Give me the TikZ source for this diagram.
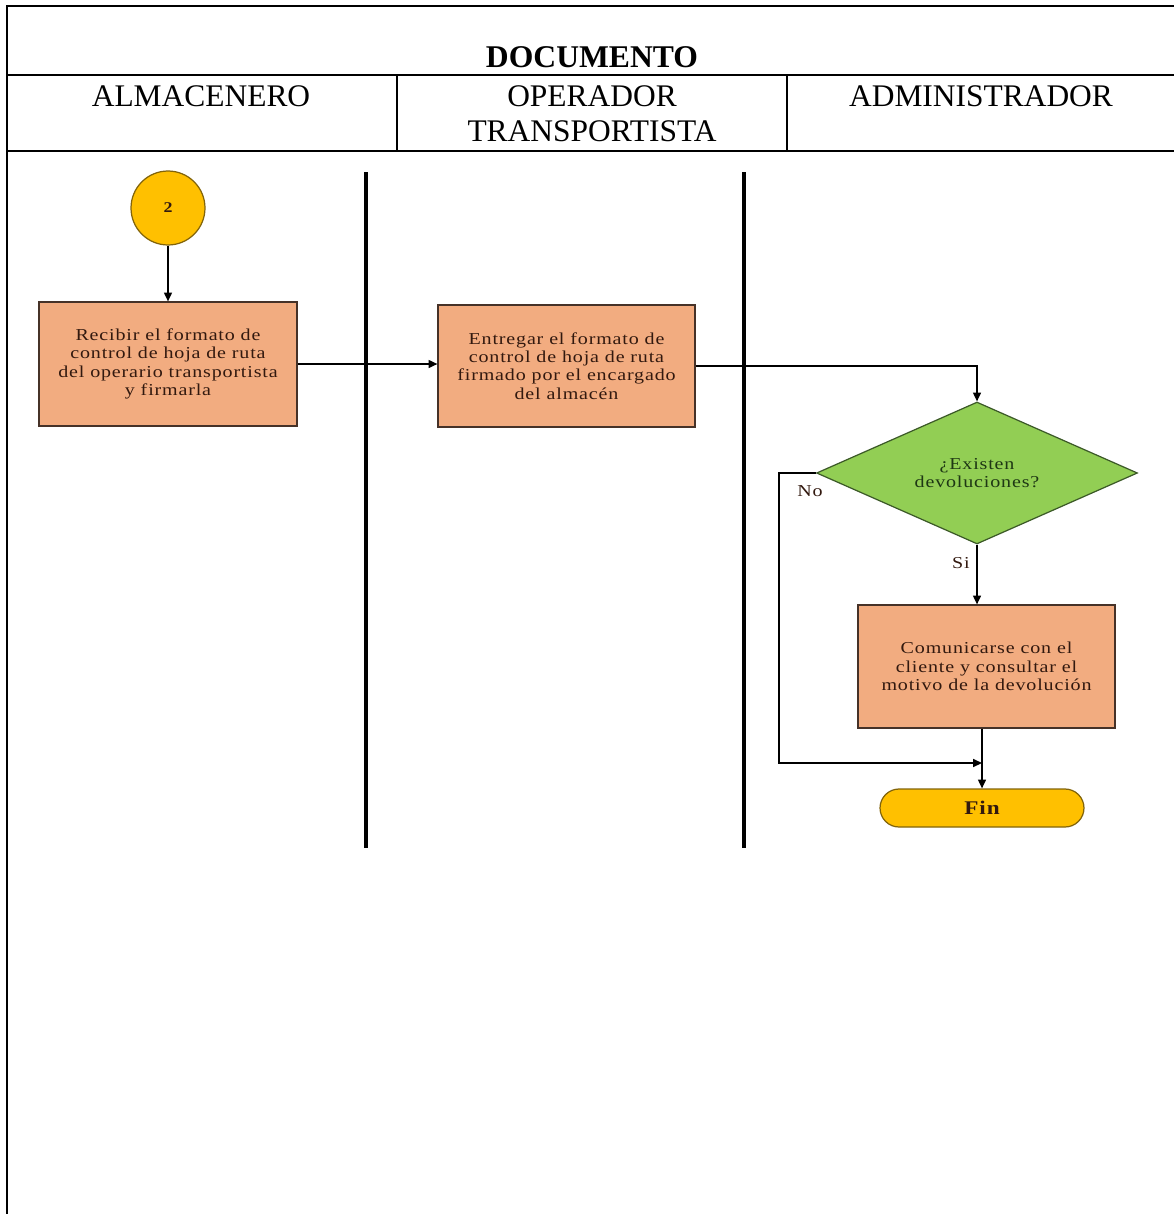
\documentclass[tikz,border=0pt]{standalone}
\usepackage{fontspec}
\setmainfont{Liberation Serif}
\newfontfamily\flowfont[FakeStretch=1.2,LetterSpace=5]{Liberation Serif}
\usetikzlibrary{shapes.geometric,shapes.misc,arrows.meta}
\definecolor{peach}{RGB}{242,172,128}
\definecolor{peachline}{RGB}{70,50,40}
\definecolor{gold}{RGB}{255,192,0}
\definecolor{goldline}{RGB}{130,100,10}
\definecolor{leaf}{RGB}{146,206,84}
\definecolor{leafline}{RGB}{60,90,40}
\definecolor{inkbrown}{RGB}{50,25,15}
\definecolor{inkgreen}{RGB}{30,55,20}
\tikzset{
  tline/.style={line width=1.4pt},
  tthin/.style={line width=0.7pt},
  lane/.style={line width=2.3pt},
  arr/.style={line width=0.85pt, -{Triangle[length=5pt,width=4.5pt]}},
  procbox/.style={draw=peachline, line width=0.7pt, fill=peach, rectangle, align=center,
    inner sep=0pt, text=inkbrown, font=\flowfont\fontsize{9.5}{10.4}\selectfont},
  hdr/.style={font=\fontsize{17.9}{19.8}\selectfont, align=center, inner sep=0pt},
  lbl/.style={font=\flowfont\fontsize{9.5}{10.2}\selectfont, text=inkbrown, inner sep=0pt}
}
\begin{document}
\begin{tikzpicture}[x=0.02cm,y=-0.02cm]
\useasboundingbox (0,0) rectangle (1174,1214);
% table
\draw[tline] (7,1214) -- (7,6) -- (1174,6);
\draw[tline] (7,75) -- (1174,75);
\draw[tline] (7,151) -- (1174,151);
\draw[tthin] (397,75) -- (397,151);
\draw[tthin] (787,75) -- (787,151);
\node[hdr, font=\bfseries\fontsize{18}{20}\selectfont] (doc) at (592,57) {DOCUMENTO};
\node[hdr] (h1) at (201,96) {ALMACENERO};
\node[hdr] (h2) at (592,113.5) {OPERADOR\\TRANSPORTISTA};
\node[hdr] (h3) at (981,96) {ADMINISTRADOR};
% swimlane separators
\draw[lane] (366,172) -- (366,848);
\draw[lane] (744,172) -- (744,848);
% nodes
\node[circle, draw=goldline, line width=0.7pt, fill=gold, minimum size=1.48cm, inner sep=0pt,
  font=\flowfont\bfseries\fontsize{8.5}{9}\selectfont, text=inkbrown] (c2) at (168,208) {2};
\node[procbox, minimum width=5.16cm, minimum height=2.48cm] (b1) at (168,364)
  {Recibir el formato de\\control de hoja de ruta\\del operario transportista\\y firmarla};
\node[procbox, minimum width=5.14cm, minimum height=2.44cm] (b2) at (566.5,366)
  {Entregar el formato de\\control de hoja de ruta\\firmado por el encargado\\del almacén};
\node[diamond, shape aspect=2.26, draw=leafline, line width=0.7pt, fill=leaf, minimum width=6.42cm, minimum height=2.84cm,
  inner sep=0pt, align=center, text=inkgreen, font=\flowfont\fontsize{9.5}{10.2}\selectfont] (d) at (977,473)
  {¿Existen\\devoluciones?};
\node[procbox, minimum width=5.14cm, minimum height=2.46cm] (b3) at (986.5,666.5)
  {Comunicarse con el\\cliente y consultar el\\motivo de la devolución};
\node[rounded rectangle, draw=goldline, line width=0.7pt, fill=gold, minimum width=4.08cm, minimum height=0.76cm,
  inner sep=0pt, text=inkbrown, font=\flowfont\bfseries\fontsize{11}{12}\selectfont] (fin) at (982,808) {Fin};
\node[lbl] (no) at (810,491) {No};
\node[lbl] (si) at (961,563) {Si};
\coordinate (nocorner) at (779,763);
\coordinate (merge) at (982,763);
% connectors
\draw[arr] (c2.south) -- (b1.north);
\draw[arr] (b1.east) -- (b1.east -| b2.west);
\draw[arr] (b2.east) -| (d.north);
\draw[arr] (d.south) -- (d.south |- b3.north);
\draw[arr] (b3.south -| fin.north) -- (fin.north);
\draw[arr] (d.west) -- (d.west -| nocorner) -- (nocorner) -- (merge);
\end{tikzpicture}
\end{document}
